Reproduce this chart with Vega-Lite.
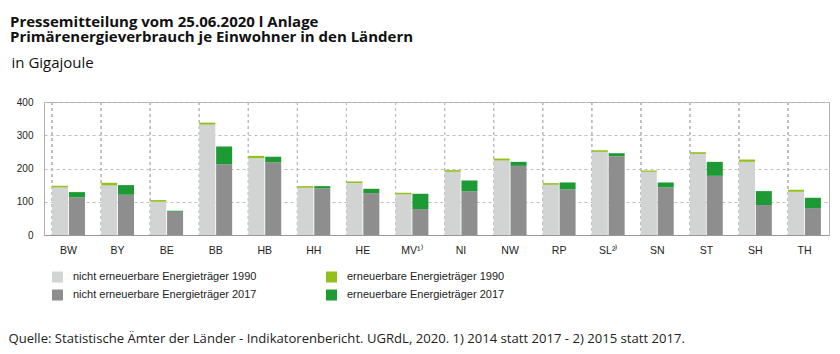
{
  "$schema": "https://vega.github.io/schema/vega-lite/v6.json",
  "width": 785,
  "height": 133,
  "autosize": "none",
  "padding": {"left": 44, "top": 102, "right": 11, "bottom": 119},
  "background": "white",
  "title": {
    "text": "Pressemitteilung vom 25.06.2020 l Anlage",
    "subtitle": "Primärenergieverbrauch je Einwohner in den Ländern",
    "anchor": "start",
    "frame": "group",
    "dx": -34,
    "font": "Open Sans",
    "fontSize": 15,
    "fontWeight": "bold",
    "color": "#111",
    "subtitleFont": "Open Sans",
    "subtitleFontSize": 15,
    "subtitleFontWeight": "bold",
    "subtitleColor": "#111",
    "subtitlePadding": 0,
    "offset": 10
  },
  "data": {
    "values": [
      {"land": "BW", "jahr": "1990", "art": "nicht erneuerbar", "reihe": "nicht erneuerbare Energieträger 1990", "wert": 143},
      {"land": "BW", "jahr": "1990", "art": "erneuerbar", "reihe": "erneuerbare Energieträger 1990", "wert": 5},
      {"land": "BW", "jahr": "2017", "art": "nicht erneuerbar", "reihe": "nicht erneuerbare Energieträger 2017", "wert": 113},
      {"land": "BW", "jahr": "2017", "art": "erneuerbar", "reihe": "erneuerbare Energieträger 2017", "wert": 16},
      {"land": "BY", "jahr": "1990", "art": "nicht erneuerbar", "reihe": "nicht erneuerbare Energieträger 1990", "wert": 149},
      {"land": "BY", "jahr": "1990", "art": "erneuerbar", "reihe": "erneuerbare Energieträger 1990", "wert": 8},
      {"land": "BY", "jahr": "2017", "art": "nicht erneuerbar", "reihe": "nicht erneuerbare Energieträger 2017", "wert": 121},
      {"land": "BY", "jahr": "2017", "art": "erneuerbar", "reihe": "erneuerbare Energieträger 2017", "wert": 29},
      {"land": "BE", "jahr": "1990", "art": "nicht erneuerbar", "reihe": "nicht erneuerbare Energieträger 1990", "wert": 100},
      {"land": "BE", "jahr": "1990", "art": "erneuerbar", "reihe": "erneuerbare Energieträger 1990", "wert": 5},
      {"land": "BE", "jahr": "2017", "art": "nicht erneuerbar", "reihe": "nicht erneuerbare Energieträger 2017", "wert": 70},
      {"land": "BE", "jahr": "2017", "art": "erneuerbar", "reihe": "erneuerbare Energieträger 2017", "wert": 3},
      {"land": "BB", "jahr": "1990", "art": "nicht erneuerbar", "reihe": "nicht erneuerbare Energieträger 1990", "wert": 332},
      {"land": "BB", "jahr": "1990", "art": "erneuerbar", "reihe": "erneuerbare Energieträger 1990", "wert": 6},
      {"land": "BB", "jahr": "2017", "art": "nicht erneuerbar", "reihe": "nicht erneuerbare Energieträger 2017", "wert": 213},
      {"land": "BB", "jahr": "2017", "art": "erneuerbar", "reihe": "erneuerbare Energieträger 2017", "wert": 53},
      {"land": "HB", "jahr": "1990", "art": "nicht erneuerbar", "reihe": "nicht erneuerbare Energieträger 1990", "wert": 231},
      {"land": "HB", "jahr": "1990", "art": "erneuerbar", "reihe": "erneuerbare Energieträger 1990", "wert": 7},
      {"land": "HB", "jahr": "2017", "art": "nicht erneuerbar", "reihe": "nicht erneuerbare Energieträger 2017", "wert": 219},
      {"land": "HB", "jahr": "2017", "art": "erneuerbar", "reihe": "erneuerbare Energieträger 2017", "wert": 16},
      {"land": "HH", "jahr": "1990", "art": "nicht erneuerbar", "reihe": "nicht erneuerbare Energieträger 1990", "wert": 142},
      {"land": "HH", "jahr": "1990", "art": "erneuerbar", "reihe": "erneuerbare Energieträger 1990", "wert": 5},
      {"land": "HH", "jahr": "2017", "art": "nicht erneuerbar", "reihe": "nicht erneuerbare Energieträger 2017", "wert": 140},
      {"land": "HH", "jahr": "2017", "art": "erneuerbar", "reihe": "erneuerbare Energieträger 2017", "wert": 7},
      {"land": "HE", "jahr": "1990", "art": "nicht erneuerbar", "reihe": "nicht erneuerbare Energieträger 1990", "wert": 156},
      {"land": "HE", "jahr": "1990", "art": "erneuerbar", "reihe": "erneuerbare Energieträger 1990", "wert": 5},
      {"land": "HE", "jahr": "2017", "art": "nicht erneuerbar", "reihe": "nicht erneuerbare Energieträger 2017", "wert": 126},
      {"land": "HE", "jahr": "2017", "art": "erneuerbar", "reihe": "erneuerbare Energieträger 2017", "wert": 13},
      {"land": "MV¹⁾", "jahr": "1990", "art": "nicht erneuerbar", "reihe": "nicht erneuerbare Energieträger 1990", "wert": 122},
      {"land": "MV¹⁾", "jahr": "1990", "art": "erneuerbar", "reihe": "erneuerbare Energieträger 1990", "wert": 5},
      {"land": "MV¹⁾", "jahr": "2017", "art": "nicht erneuerbar", "reihe": "nicht erneuerbare Energieträger 2017", "wert": 78},
      {"land": "MV¹⁾", "jahr": "2017", "art": "erneuerbar", "reihe": "erneuerbare Energieträger 2017", "wert": 46},
      {"land": "NI", "jahr": "1990", "art": "nicht erneuerbar", "reihe": "nicht erneuerbare Energieträger 1990", "wert": 190},
      {"land": "NI", "jahr": "1990", "art": "erneuerbar", "reihe": "erneuerbare Energieträger 1990", "wert": 5},
      {"land": "NI", "jahr": "2017", "art": "nicht erneuerbar", "reihe": "nicht erneuerbare Energieträger 2017", "wert": 131},
      {"land": "NI", "jahr": "2017", "art": "erneuerbar", "reihe": "erneuerbare Energieträger 2017", "wert": 33},
      {"land": "NW", "jahr": "1990", "art": "nicht erneuerbar", "reihe": "nicht erneuerbare Energieträger 1990", "wert": 224},
      {"land": "NW", "jahr": "1990", "art": "erneuerbar", "reihe": "erneuerbare Energieträger 1990", "wert": 6},
      {"land": "NW", "jahr": "2017", "art": "nicht erneuerbar", "reihe": "nicht erneuerbare Energieträger 2017", "wert": 208},
      {"land": "NW", "jahr": "2017", "art": "erneuerbar", "reihe": "erneuerbare Energieträger 2017", "wert": 12},
      {"land": "RP", "jahr": "1990", "art": "nicht erneuerbar", "reihe": "nicht erneuerbare Energieträger 1990", "wert": 151},
      {"land": "RP", "jahr": "1990", "art": "erneuerbar", "reihe": "erneuerbare Energieträger 1990", "wert": 5},
      {"land": "RP", "jahr": "2017", "art": "nicht erneuerbar", "reihe": "nicht erneuerbare Energieträger 2017", "wert": 137},
      {"land": "RP", "jahr": "2017", "art": "erneuerbar", "reihe": "erneuerbare Energieträger 2017", "wert": 21},
      {"land": "SL²⁾", "jahr": "1990", "art": "nicht erneuerbar", "reihe": "nicht erneuerbare Energieträger 1990", "wert": 250},
      {"land": "SL²⁾", "jahr": "1990", "art": "erneuerbar", "reihe": "erneuerbare Energieträger 1990", "wert": 5},
      {"land": "SL²⁾", "jahr": "2017", "art": "nicht erneuerbar", "reihe": "nicht erneuerbare Energieträger 2017", "wert": 237},
      {"land": "SL²⁾", "jahr": "2017", "art": "erneuerbar", "reihe": "erneuerbare Energieträger 2017", "wert": 9},
      {"land": "SN", "jahr": "1990", "art": "nicht erneuerbar", "reihe": "nicht erneuerbare Energieträger 1990", "wert": 190},
      {"land": "SN", "jahr": "1990", "art": "erneuerbar", "reihe": "erneuerbare Energieträger 1990", "wert": 4},
      {"land": "SN", "jahr": "2017", "art": "nicht erneuerbar", "reihe": "nicht erneuerbare Energieträger 2017", "wert": 143},
      {"land": "SN", "jahr": "2017", "art": "erneuerbar", "reihe": "erneuerbare Energieträger 2017", "wert": 15},
      {"land": "ST", "jahr": "1990", "art": "nicht erneuerbar", "reihe": "nicht erneuerbare Energieträger 1990", "wert": 244},
      {"land": "ST", "jahr": "1990", "art": "erneuerbar", "reihe": "erneuerbare Energieträger 1990", "wert": 5},
      {"land": "ST", "jahr": "2017", "art": "nicht erneuerbar", "reihe": "nicht erneuerbare Energieträger 2017", "wert": 178},
      {"land": "ST", "jahr": "2017", "art": "erneuerbar", "reihe": "erneuerbare Energieträger 2017", "wert": 42},
      {"land": "SH", "jahr": "1990", "art": "nicht erneuerbar", "reihe": "nicht erneuerbare Energieträger 1990", "wert": 220},
      {"land": "SH", "jahr": "1990", "art": "erneuerbar", "reihe": "erneuerbare Energieträger 1990", "wert": 7},
      {"land": "SH", "jahr": "2017", "art": "nicht erneuerbar", "reihe": "nicht erneuerbare Energieträger 2017", "wert": 90},
      {"land": "SH", "jahr": "2017", "art": "erneuerbar", "reihe": "erneuerbare Energieträger 2017", "wert": 42},
      {"land": "TH", "jahr": "1990", "art": "nicht erneuerbar", "reihe": "nicht erneuerbare Energieträger 1990", "wert": 130},
      {"land": "TH", "jahr": "1990", "art": "erneuerbar", "reihe": "erneuerbare Energieträger 1990", "wert": 6},
      {"land": "TH", "jahr": "2017", "art": "nicht erneuerbar", "reihe": "nicht erneuerbare Energieträger 2017", "wert": 81},
      {"land": "TH", "jahr": "2017", "art": "erneuerbar", "reihe": "erneuerbare Energieträger 2017", "wert": 31}
    ]
  },
  "transform": [
    {"stack": "wert", "groupby": ["land", "jahr"], "sort": [{"field": "art", "order": "descending"}], "as": ["v0", "v1"]}
  ],
  "encoding": {
    "x": {
      "field": "land",
      "type": "nominal",
      "sort": ["BW", "BY", "BE", "BB", "HB", "HH", "HE", "MV¹⁾", "NI", "NW", "RP", "SL²⁾", "SN", "ST", "SH", "TH"],
      "scale": {"paddingInner": 0.33, "paddingOuter": 0.165},
      "axis": {
        "title": "Quelle: Statistische Ämter der Länder - Indikatorenbericht. UGRdL, 2020. 1) 2014 statt 2017 - 2) 2015 statt 2017.",
        "titleFont": "Open Sans",
        "titleFontSize": 13.1,
        "titleFontWeight": "normal",
        "titleColor": "#222",
        "titleAnchor": "start",
        "titleAlign": "left",
        "titleBaseline": "alphabetic",
        "titleX": -36,
        "titleY": 107,
        "labelAngle": 0,
        "labelOverlap": false,
        "labelFont": "Liberation Sans",
        "labelFontSize": 10.5,
        "labelColor": "#222",
        "labelPadding": 10,
        "ticks": false,
        "grid": false,
        "domainColor": "#999999"
      }
    }
  },
  "layer": [
    {
      "mark": {"type": "rule", "strokeDash": [3, 3], "color": "#bdbdbd", "strokeWidth": 1},
      "encoding": {
        "x": {"field": "land", "type": "nominal", "bandPosition": 0,
          "sort": ["BW", "BY", "BE", "BB", "HB", "HH", "HE", "MV¹⁾", "NI", "NW", "RP", "SL²⁾", "SN", "ST", "SH", "TH"]}
      }
    },
    {
      "mark": {"type": "bar"},
      "encoding": {
        "xOffset": {"field": "jahr", "type": "nominal", "scale": {"paddingInner": 0.05}},
        "y": {
          "field": "v0",
          "type": "quantitative",
          "scale": {"domain": [0, 400], "nice": false},
          "axis": {
            "title": "in Gigajoule",
            "titleAngle": 0,
            "titleAlign": "left",
            "titleBaseline": "alphabetic",
            "titleAnchor": "start",
            "titleX": -33,
            "titleY": -35,
            "titleFont": "Open Sans",
            "titleFontSize": 15,
            "titleFontWeight": "normal",
            "titleColor": "#111",
            "values": [0, 100, 200, 300, 400],
            "labelFont": "Liberation Sans",
            "labelFontSize": 10,
            "labelColor": "#222",
            "labelPadding": 11,
            "ticks": false,
            "domain": false,
            "grid": true,
            "gridDash": [3, 3],
            "gridColor": "#bdbdbd"
          }
        },
        "y2": {"field": "v1"},
        "color": {
          "field": "reihe",
          "type": "nominal",
          "scale": {
            "domain": ["nicht erneuerbare Energieträger 1990", "nicht erneuerbare Energieträger 2017", "erneuerbare Energieträger 1990", "erneuerbare Energieträger 2017"],
            "range": ["#d2d3d3", "#8e8e8e", "#93c01f", "#1e9a35"]
          },
          "legend": {
            "title": null,
            "orient": "none",
            "legendX": 8,
            "legendY": 169.5,
            "columns": 2,
            "columnPadding": 69,
            "rowPadding": 6,
            "symbolType": "square",
            "symbolSize": 121,
            "symbolStrokeWidth": 0,
            "labelFont": "Liberation Sans",
            "labelFontSize": 11,
            "labelColor": "#222",
            "labelOffset": 10,
            "labelLimit": 400,
            "padding": 0
          }
        }
      }
    }
  ],
  "config": {
    "view": {"stroke": "#b0b0b0", "strokeWidth": 1}
  }
}
